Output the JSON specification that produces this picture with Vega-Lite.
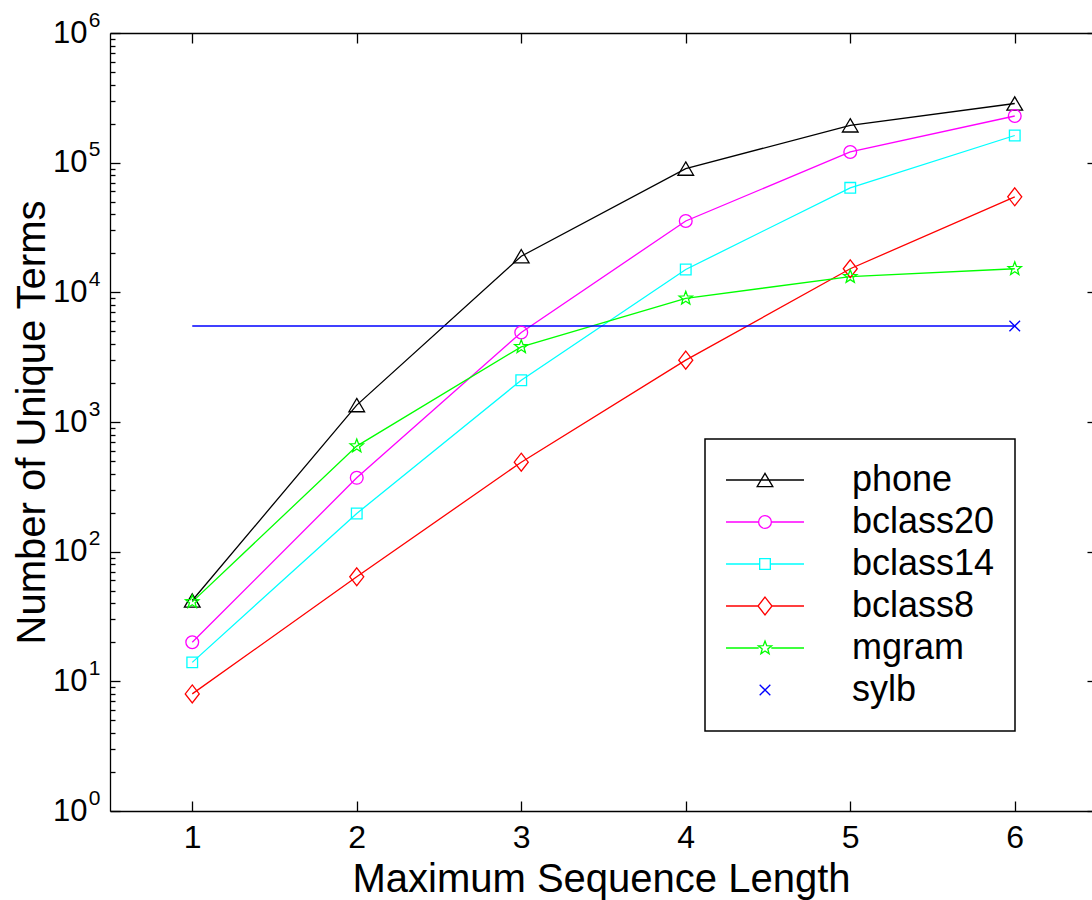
{
  "$schema": "https://vega.github.io/schema/vega-lite/v6.json",
  "width": 982,
  "height": 778,
  "autosize": "none",
  "padding": {"left": 110, "top": 33, "right": 0, "bottom": 89},
  "background": "white",
  "config": {
    "view": {"stroke": null},
    "font": "Liberation Sans",
    "axis": {
      "grid": false,
      "domainColor": "black",
      "tickColor": "black",
      "labelColor": "black",
      "titleColor": "black",
      "domainWidth": 1.3,
      "tickWidth": 1.3,
      "labelFont": "Liberation Sans",
      "titleFont": "Liberation Sans",
      "titleFontWeight": "normal"
    }
  },
  "resolve": {"axis": {"y": "independent"}},
  "data": {
    "values": [
      {"len": 1, "terms": 42, "series": "phone"},
      {"len": 2, "terms": 1350, "series": "phone"},
      {"len": 3, "terms": 19000, "series": "phone"},
      {"len": 4, "terms": 90000, "series": "phone"},
      {"len": 5, "terms": 194000, "series": "phone"},
      {"len": 6, "terms": 286000, "series": "phone"},
      {"len": 1, "terms": 20, "series": "bclass20"},
      {"len": 2, "terms": 371, "series": "bclass20"},
      {"len": 3, "terms": 4900, "series": "bclass20"},
      {"len": 4, "terms": 35500, "series": "bclass20"},
      {"len": 5, "terms": 121000, "series": "bclass20"},
      {"len": 6, "terms": 229000, "series": "bclass20"},
      {"len": 1, "terms": 14, "series": "bclass14"},
      {"len": 2, "terms": 197, "series": "bclass14"},
      {"len": 3, "terms": 2100, "series": "bclass14"},
      {"len": 4, "terms": 15000, "series": "bclass14"},
      {"len": 5, "terms": 64000, "series": "bclass14"},
      {"len": 6, "terms": 162000, "series": "bclass14"},
      {"len": 1, "terms": 8, "series": "bclass8"},
      {"len": 2, "terms": 64, "series": "bclass8"},
      {"len": 3, "terms": 490, "series": "bclass8"},
      {"len": 4, "terms": 3000, "series": "bclass8"},
      {"len": 5, "terms": 15200, "series": "bclass8"},
      {"len": 6, "terms": 54500, "series": "bclass8"},
      {"len": 1, "terms": 41, "series": "mgram"},
      {"len": 2, "terms": 652, "series": "mgram"},
      {"len": 3, "terms": 3800, "series": "mgram"},
      {"len": 4, "terms": 9000, "series": "mgram"},
      {"len": 5, "terms": 13200, "series": "mgram"},
      {"len": 6, "terms": 15200, "series": "mgram"},
      {"len": 1, "terms": 5500, "series": "sylb"},
      {"len": 2, "terms": 5500, "series": "sylb"},
      {"len": 3, "terms": 5500, "series": "sylb"},
      {"len": 4, "terms": 5500, "series": "sylb"},
      {"len": 5, "terms": 5500, "series": "sylb"},
      {"len": 6, "terms": 5500, "series": "sylb"}
    ]
  },
  "layer": [
    {
      "mark": {"type": "line", "strokeWidth": 1.3},
      "encoding": {
        "x": {
          "field": "len",
          "type": "quantitative",
          "scale": {"domain": [0.5, 6.4696], "nice": false, "zero": false},
          "axis": {
            "orient": "bottom",
            "values": [1, 2, 3, 4, 5, 6],
            "tickSize": -10,
            "labelFontSize": 32,
            "labelPadding": 21,
            "labelAngle": 0,
            "labelFlush": false,
            "title": "Maximum Sequence Length",
            "titleFontSize": 40,
            "titlePadding": 6
          }
        },
        "y": {
          "field": "terms",
          "type": "quantitative",
          "scale": {"type": "log", "domain": [1, 1000000], "nice": false},
          "axis": {
            "orient": "left",
            "values": [1, 2, 3, 4, 5, 6, 7, 8, 9, 10, 20, 30, 40, 50, 60, 70, 80, 90, 100, 200, 300, 400, 500, 600, 700, 800, 900, 1000, 2000, 3000, 4000, 5000, 6000, 7000, 8000, 9000, 10000, 20000, 30000, 40000, 50000, 60000, 70000, 80000, 90000, 100000, 200000, 300000, 400000, 500000, 600000, 700000, 800000, 900000, 1000000],
            "tickSize": {"condition": {"test": "datum.value == 1 || datum.value == 10 || datum.value == 100 || datum.value == 1000 || datum.value == 10000 || datum.value == 100000 || datum.value == 1000000", "value": -10}, "value": -5},
            "labelExpr": "datum.value == 1 || datum.value == 10 || datum.value == 100 || datum.value == 1000 || datum.value == 10000 || datum.value == 100000 || datum.value == 1000000 ? '10' : ''",
            "labelFontSize": 31,
            "labelPadding": 33,
            "labelOverlap": false,
            "labelFlush": false,
            "labelBound": false,
            "title": "Number of Unique Terms",
            "titleFontSize": 40,
            "titlePadding": 0
          }
        },
        "color": {
          "field": "series",
          "type": "nominal",
          "scale": {
            "domain": ["phone", "bclass20", "bclass14", "bclass8", "mgram", "sylb"],
            "range": ["#000000", "#ff00ff", "#00ffff", "#ff0000", "#00ff00", "#0000ff"]
          },
          "legend": {
            "orient": "none",
            "legendX": 595,
            "legendY": 406,
            "title": null,
            "strokeColor": "black",
            "fillColor": "white",
            "padding": 20,
            "labelFontSize": 36,
            "labelFont": "Liberation Sans",
            "labelColor": "black",
            "symbolSize": 196,
            "symbolStrokeWidth": 1.3,
            "rowPadding": 0,
            "clipHeight": 42,
            "symbolOffset": 22,
            "labelOffset": 69,
            "encode": {
              "legend": {
                "update": {
                  "strokeWidth": {"value": 1.5}
                }
              },
              "symbols": {
                "update": {
                  "shape": {"signal": "datum.value === 'phone' ? 'M-5.57,0L5.57,0M0,-0.95L1.12,0.95L-1.12,0.95Z' : datum.value === 'bclass20' ? 'M-5.57,0L-0.91,0M0.91,0L5.57,0M0.91,0A0.91,0.91,0,1,1,-0.91,0A0.91,0.91,0,1,1,0.91,0Z' : datum.value === 'bclass14' ? 'M-5.57,0L-0.76,0M0.76,0L5.57,0M-0.76,-0.76L0.76,-0.76L0.76,0.76L-0.76,0.76Z' : datum.value === 'bclass8' ? 'M-5.57,0L-1,0M1,0L5.57,0M0,-1.28L1,0L0,1.28L-1,0Z' : datum.value === 'mgram' ? 'M-5.57,0L-0.9,0M0.9,0L5.57,0M0,-1L0.247,-0.34L0.951,-0.309L0.399,0.13L0.588,0.809L0,0.42L-0.588,0.809L-0.399,0.13L-0.951,-0.309L-0.247,-0.34Z' : 'M-0.76,-0.76L0.76,0.76M-0.76,0.76L0.76,-0.76'"},
                  "fill": {"value": "transparent"},
                  "size": {"value": 196},
                  "strokeWidth": {"value": 1.3},
                  "opacity": {"value": 1}
                }
              }
            }
          }
        },
        "strokeWidth": {
          "field": "series",
          "type": "nominal",
          "scale": {
            "domain": ["phone", "bclass20", "bclass14", "bclass8", "mgram", "sylb"],
            "range": [1.3, 1.3, 1.3, 1.3, 1.3, 2]
          },
          "legend": null
        }
      }
    },
    {
      "transform": [{"filter": "datum.series !== 'sylb'"}],
      "mark": {"type": "point", "filled": false, "size": 196, "strokeWidth": 1.3, "opacity": 1},
      "encoding": {
        "x": {
          "field": "len",
          "type": "quantitative",
          "axis": {
            "orient": "top",
            "values": [1, 2, 3, 4, 5, 6],
            "tickSize": -10,
            "labels": false,
            "title": null
          }
        },
        "y": {
          "field": "terms",
          "type": "quantitative",
          "axis": {
            "orient": "right",
            "values": [1, 10, 100, 1000, 10000, 100000, 1000000],
            "tickSize": -5,
            "labels": false,
            "domain": false,
            "title": null
          }
        },
        "color": {"field": "series", "type": "nominal", "legend": null},
        "shape": {
          "field": "series",
          "type": "nominal",
          "scale": {
            "domain": ["phone", "bclass20", "bclass14", "bclass8", "mgram"],
            "range": [
              "M0,-0.95L1.12,0.95L-1.12,0.95Z",
              "M0.91,0A0.91,0.91,0,1,1,-0.91,0A0.91,0.91,0,1,1,0.91,0Z",
              "M-0.76,-0.76L0.76,-0.76L0.76,0.76L-0.76,0.76Z",
              "M0,-1.28L1,0L0,1.28L-1,0Z",
              "M0,-1L0.247,-0.34L0.951,-0.309L0.399,0.13L0.588,0.809L0,0.42L-0.588,0.809L-0.399,0.13L-0.951,-0.309L-0.247,-0.34Z"
            ]
          },
          "legend": null
        }
      }
    },
    {
      "transform": [{"filter": "datum.series === 'sylb' && datum.len === 6"}],
      "mark": {"type": "point", "filled": false, "size": 196, "strokeWidth": 1.3, "opacity": 1, "shape": "M-0.76,-0.76L0.76,0.76M-0.76,0.76L0.76,-0.76"},
      "encoding": {
        "x": {"field": "len", "type": "quantitative", "axis": null},
        "y": {
          "field": "terms",
          "type": "quantitative",
          "axis": {
            "orient": "left",
            "values": [1, 10, 100, 1000, 10000, 100000, 1000000],
            "ticks": false,
            "tickSize": 0,
            "domain": false,
            "labelExpr": "datum.value == 1 ? '0' : datum.value == 10 ? '1' : datum.value == 100 ? '2' : datum.value == 1000 ? '3' : datum.value == 10000 ? '4' : datum.value == 100000 ? '5' : '6'",
            "labelFontSize": 21,
            "labelPadding": 10,
            "labelOffset": -13,
            "labelOverlap": false,
            "labelFlush": false,
            "labelBound": false,
            "title": null
          }
        },
        "color": {"field": "series", "type": "nominal", "legend": null}
      }
    }
  ]
}
